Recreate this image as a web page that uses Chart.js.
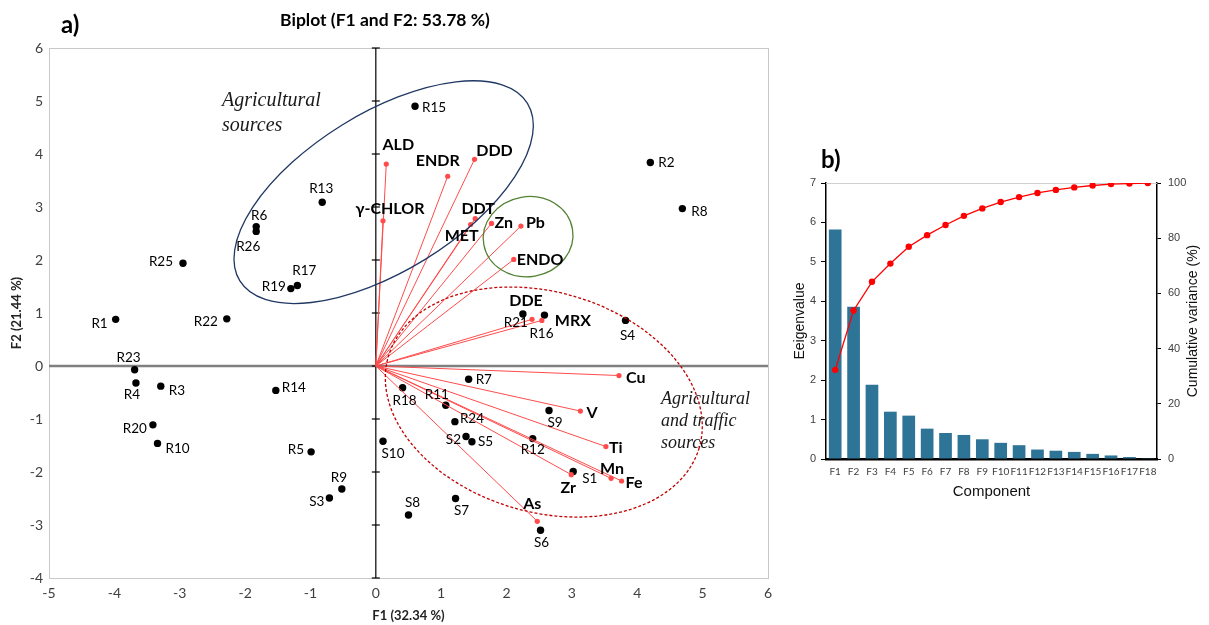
<!DOCTYPE html>
<html>
<head>
<meta charset="utf-8">
<script src="https://cdn.jsdelivr.net/npm/chart.js@4.4.0/dist/chart.umd.min.js"></script>
<style>
  html, body { margin: 0; padding: 0; background: #fff; }
  #panelA { position: absolute; left: 0; top: 0; }
  #panelB { position: absolute; left: 790px; top: 0; }
</style>
</head>
<body>
<canvas id="panelA" width="790" height="625"></canvas>
<canvas id="panelB" width="419" height="625"></canvas>
<script>
// --- biplot: sampling sites (observations) ---
const siteNames = ['R1', 'R2', 'R3', 'R4', 'R5', 'R6', 'R7', 'R8', 'R9', 'R10', 'R11', 'R12', 'R13',
  'R14', 'R15', 'R16', 'R17', 'R18', 'R19', 'R20', 'R21', 'R22', 'R23', 'R24', 'R25', 'R26',
  'S1', 'S2', 'S3', 'S4', 'S5', 'S6', 'S7', 'S8', 'S9', 'S10'];
const siteF1 = [-3.98, 4.20, -3.29, -3.67, -0.99, -1.83, 1.42, 4.69, -0.52, -3.34, 1.07, 2.40, -0.82,
  -1.53, 0.60, 2.58, -1.20, 0.41, -1.30, -3.41, 2.25, -2.28, -3.69, 1.21, -2.95, -1.83,
  3.02, 1.38, -0.71, 3.82, 1.47, 2.52, 1.22, 0.50, 2.65, 0.11];
const siteF2 = [0.88, 3.84, -0.38, -0.32, -1.62, 2.63, -0.25, 2.97, -2.32, -1.46, -0.74, -1.37, 3.09,
  -0.46, 4.90, 0.96, 1.52, -0.41, 1.46, -1.11, 0.98, 0.89, -0.07, -1.05, 1.94, 2.54,
  -1.99, -1.33, -2.49, 0.86, -1.43, -3.10, -2.50, -2.81, -0.84, -1.42];

// --- biplot: variables (loadings) ---
const varNames = ['ALD', 'ENDR', 'DDD', 'γ-CHLOR', 'DDT', 'MET', 'Zn', 'Pb', 'ENDO', 'DDE', 'MRX',
  'Cu', 'V', 'Ti', 'Mn', 'Fe', 'Zr', 'As'];
const varF1 = [0.16, 1.10, 1.51, 0.11, 1.52, 1.45, 1.77, 2.22, 2.11, 2.39, 2.54,
  3.72, 3.13, 3.52, 3.60, 3.76, 2.99, 2.47];
const varF2 = [3.81, 3.58, 3.90, 2.74, 2.78, 2.67, 2.69, 2.64, 2.01, 0.88, 0.86,
  -0.18, -0.85, -1.52, -2.12, -2.17, -2.05, -2.93];

// --- scree plot ---
const components = ['F1', 'F2', 'F3', 'F4', 'F5', 'F6', 'F7', 'F8', 'F9', 'F10', 'F11', 'F12',
  'F13', 'F14', 'F15', 'F16', 'F17', 'F18'];
const eigenvalues = [5.82, 3.86, 1.88, 1.20, 1.10, 0.77, 0.66, 0.61, 0.50, 0.41, 0.35, 0.24,
  0.21, 0.18, 0.13, 0.09, 0.05, 0.02];
const cumulativeVariance = [32.3, 53.8, 64.2, 70.8, 76.9, 81.1, 84.8, 88.1, 90.8, 93.1, 94.9, 96.4,
  97.5, 98.4, 99.1, 99.6, 99.8, 100];

// label placement (dx, dy in px from the point, text alignment)
const siteLabelPos = [
  [-8, 4, 'right'], [8, 0, 'left'], [8, 5, 'left'], [-4, 12, 'center'], [-7, -2, 'right'],
  [3, -11, 'center'], [7, 0, 'left'], [9, 3, 'left'], [-3, -11, 'center'], [8, 5, 'left'],
  [-9, -11, 'center'], [0, 11, 'center'], [-1, -14, 'center'], [6, -3, 'left'], [7, 1, 'left'],
  [-3, 19, 'center'], [7, -15, 'center'], [2, 13, 'center'], [-5, -2, 'right'], [-6, 4, 'right'],
  [-7, 9, 'center'], [-9, 3, 'right'], [-6, -12, 'center'], [5, -3, 'left'], [-10, -2, 'right'],
  [-8, 15, 'center'],
  [9, 7, 'left'], [-5, 3, 'right'], [-5, 4, 'right'], [2, 15, 'center'], [6, 0, 'left'],
  [1, 12, 'center'], [6, 12, 'center'], [4, -12, 'center'], [6, 12, 'center'], [10, 12, 'center']
];
const varLabelPos = [
  [12, -19, 'center'], [-10, -15, 'center'], [20, -8, 'center'], [7, -12, 'center'],
  [3, -10, 'center'], [-9, 11, 'center'], [3, -1, 'left'], [5, -3, 'left'], [3, 0, 'left'],
  [-6, -19, 'center'], [13, 0, 'left'], [7, 2, 'left'], [6, 2, 'left'], [3, 1, 'left'],
  [1, -10, 'center'], [4, 2, 'left'], [-3, 13, 'center'], [-5, -17, 'center']
];

// grouping ellipses: centre in data units, radii in px, angle in degrees
const groupEllipses = [
  { cx: 0.12, cy: 3.28, rx: 169, ry: 79, angle: -31.7, color: '#203864', dash: [] },
  { cx: 2.33, cy: 2.44, rx: 45, ry: 40, angle: -10, color: '#548235', dash: [] },
  { cx: 2.57, cy: -0.68, rx: 162, ry: 110, angle: 16.4, color: '#c00000', dash: [3, 2] }
];

const vectorColor = '#ff4b4b';

const vectorSets = varNames.map((name, i) => ({
  label: name,
  data: [{ x: 0, y: 0 }, { x: varF1[i], y: varF2[i] }],
  showLine: true,
  borderColor: vectorColor,
  borderWidth: 1,
  pointRadius: [0, 2.6],
  pointBackgroundColor: vectorColor,
  pointBorderWidth: 0
}));

const siteSet = {
  label: 'sites',
  data: siteNames.map((n, i) => ({ x: siteF1[i], y: siteF2[i] })),
  pointRadius: 3.7,
  pointBackgroundColor: '#000',
  pointBorderWidth: 0
};

const biplotDecor = {
  id: 'biplotDecor',
  beforeDatasetsDraw(chart) {
    const { ctx, chartArea: a, scales: { x, y } } = chart;
    ctx.save();
    ctx.strokeStyle = '#c8c8c8';
    ctx.lineWidth = 1;
    ctx.strokeRect(a.left + 0.5, a.top + 0.5, a.right - a.left, a.bottom - a.top);
    const y0 = y.getPixelForValue(0), x0 = x.getPixelForValue(0);
    ctx.strokeStyle = '#7f7f7f';
    ctx.lineWidth = 2.5;
    ctx.beginPath(); ctx.moveTo(a.left, y0); ctx.lineTo(a.right, y0); ctx.stroke();
    ctx.strokeStyle = '#000';
    ctx.lineWidth = 1.2;
    ctx.beginPath(); ctx.moveTo(x0, a.top); ctx.lineTo(x0, a.bottom); ctx.stroke();
    y.ticks.forEach(t => {
      const py = y.getPixelForValue(t.value);
      ctx.beginPath(); ctx.moveTo(x0 - 4, py); ctx.lineTo(x0 + 4, py); ctx.stroke();
    });
    ctx.restore();
  },
  afterDatasetsDraw(chart) {
    const { ctx, scales: { x, y } } = chart;
    ctx.save();
    groupEllipses.forEach(e => {
      ctx.beginPath();
      ctx.ellipse(x.getPixelForValue(e.cx), y.getPixelForValue(e.cy), e.rx, e.ry,
        e.angle * Math.PI / 180, 0, 2 * Math.PI);
      ctx.strokeStyle = e.color;
      ctx.lineWidth = 1.3;
      ctx.setLineDash(e.dash);
      ctx.stroke();
    });
    ctx.setLineDash([]);
    ctx.textBaseline = 'middle';
    ctx.fillStyle = '#000';

    // variable labels
    ctx.font = 'bold 16px Lato';
    varNames.forEach((name, i) => {
      const pt = chart.getDatasetMeta(i).data[1];
      const [dx, dy, al] = varLabelPos[i];
      ctx.textAlign = al;
      ctx.fillText(name, pt.x + dx, pt.y + dy);
    });

    // site labels
    ctx.font = '13.5px Lato';
    const meta = chart.getDatasetMeta(varNames.length);
    siteNames.forEach((name, i) => {
      const pt = meta.data[i];
      const [dx, dy, al] = siteLabelPos[i];
      ctx.textAlign = al;
      ctx.fillText(name, pt.x + dx, pt.y + dy);
    });

    // source annotations
    ctx.fillStyle = '#1a1a1a';
    ctx.textAlign = 'left';
    ctx.font = 'italic 20px "Liberation Serif"';
    ctx.fillText('Agricultural', 222, 101);
    ctx.fillText('sources', 222, 126);
    ctx.font = 'italic 18px "Liberation Serif"';
    ctx.fillText('Agricultural', 661, 399);
    ctx.fillText('and traffic', 661, 421.5);
    ctx.fillText('sources', 661, 443.5);

    // headings
    ctx.fillStyle = '#000';
    ctx.textAlign = 'center';
    ctx.font = 'bold 17.5px Lato';
    ctx.fillText('Biplot (F1 and F2: 53.78 %)', 385, 20);
    ctx.textAlign = 'left';
    ctx.font = 'bold 24px Lato';
    ctx.fillText('a)', 61, 25);
    ctx.restore();
  }
};

new Chart(document.getElementById('panelA'), {
  type: 'scatter',
  data: { datasets: [...vectorSets, siteSet] },
  options: {
    responsive: false,
    animation: false,
    layout: { padding: { top: 48, left: 0, right: 22, bottom: 0 } },
    plugins: { legend: { display: false }, tooltip: { enabled: false } },
    scales: {
      x: {
        min: -5, max: 6,
        ticks: { stepSize: 1, padding: 7, color: '#404040', font: { family: 'Lato', size: 14 } },
        grid: { display: false, drawTicks: false },
        border: { display: false },
        title: { display: true, text: 'F1 (32.34 %)', color: '#222', padding: { top: 0, bottom: 1 },
          font: { family: 'Lato', size: 13, weight: 'bold' } },
        afterFit(s) { s.height = 47; }
      },
      y: {
        min: -4, max: 6,
        ticks: { stepSize: 1, padding: 6, color: '#404040', font: { family: 'Lato', size: 14 } },
        grid: { display: false, drawTicks: false },
        border: { display: false },
        title: { display: true, text: 'F2 (21.44 %)', color: '#222', padding: { top: 9, bottom: 0 },
          font: { family: 'Lato', size: 13, weight: 'bold' } },
        afterFit(s) { s.width = 49; }
      }
    }
  },
  plugins: [biplotDecor]
});

const screeDecor = {
  id: 'screeDecor',
  beforeDatasetsDraw(chart) {
    const { ctx, chartArea: a } = chart;
    ctx.save();
    ctx.strokeStyle = '#d0d0d0';
    ctx.lineWidth = 1;
    ctx.beginPath(); ctx.moveTo(a.left, a.top + 0.5); ctx.lineTo(a.right, a.top + 0.5); ctx.stroke();
    ctx.restore();
  },
  afterDraw(chart) {
    const { ctx, chartArea: a } = chart;
    ctx.save();
    ctx.fillStyle = '#000';
    ctx.textBaseline = 'middle';
    ctx.font = 'bold 24px Lato';
    ctx.fillText('b)', 31, 160);
    ctx.translate(403, (a.top + a.bottom) / 2);
    ctx.rotate(-Math.PI / 2);
    ctx.textAlign = 'center';
    ctx.font = '14px "Liberation Sans"';
    ctx.fillStyle = '#111';
    ctx.fillText('Cumulative variance (%)', 0, 0);
    ctx.restore();
  }
};

new Chart(document.getElementById('panelB'), {
  type: 'bar',
  data: {
    labels: components,
    datasets: [
      {
        type: 'line', data: cumulativeVariance, yAxisID: 'y1', order: 0,
        borderColor: '#ff0000', backgroundColor: '#ff0000', borderWidth: 1.3,
        pointRadius: 3.2, pointBorderWidth: 0, tension: 0
      },
      {
        type: 'bar', data: eigenvalues, yAxisID: 'y', order: 1,
        backgroundColor: '#2e7497', barPercentage: 0.69, categoryPercentage: 1
      }
    ]
  },
  options: {
    responsive: false,
    animation: false,
    layout: { padding: { top: 183, left: 0, right: 0, bottom: 121 } },
    plugins: { legend: { display: false }, tooltip: { enabled: false } },
    scales: {
      x: {
        ticks: { padding: 7, maxRotation: 0, autoSkip: false, color: '#404040',
          font: { family: 'Lato', size: 10 } },
        grid: { display: false, drawTicks: false },
        border: { color: '#000', width: 2.5 },
        title: { display: true, text: 'Component', color: '#111', padding: { top: 0, bottom: 3 },
          font: { family: 'Liberation Sans', size: 15 } },
        afterFit(s) { s.height = 45; }
      },
      y: {
        position: 'left', min: 0, max: 7,
        ticks: { stepSize: 1, padding: 5, color: '#404040', font: { family: 'Liberation Sans', size: 11 } },
        grid: { drawOnChartArea: false, tickLength: 5, color: '#000' },
        border: { color: '#000', width: 1.5 },
        title: { display: true, text: 'Eeigenvalue', color: '#111', padding: { top: 2, bottom: 0 },
          font: { family: 'Liberation Sans', size: 14 } },
        afterFit(s) { s.width = 36; }
      },
      y1: {
        position: 'right', min: 0, max: 100,
        ticks: { stepSize: 20, padding: 7, color: '#404040', font: { family: 'Liberation Sans', size: 11 } },
        grid: { drawOnChartArea: false, tickLength: 4, color: '#000' },
        border: { color: '#000', width: 1.5 },
        afterFit(s) { s.width = 52; }
      }
    }
  },
  plugins: [screeDecor]
});
</script>
</body>
</html>
